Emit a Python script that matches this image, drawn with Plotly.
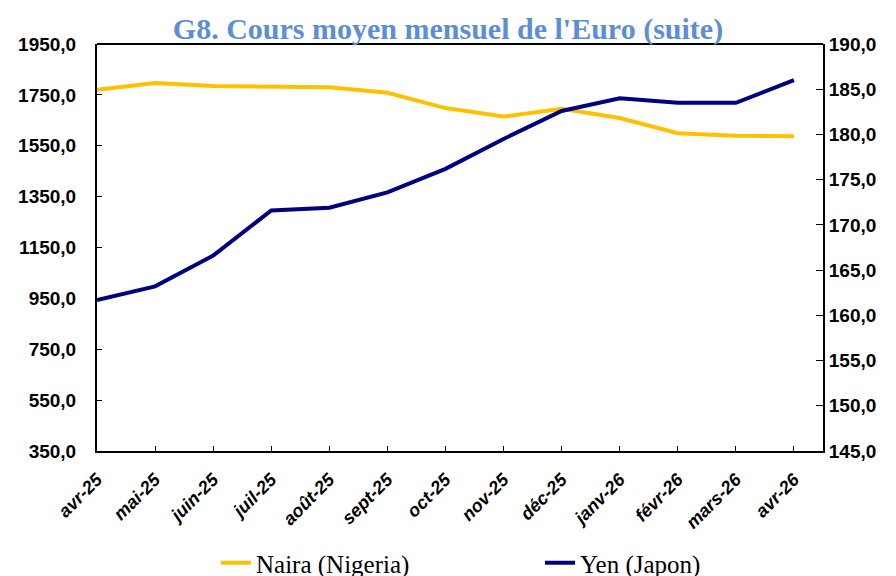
import plotly.graph_objects as go

months = ["avr-25", "mai-25", "juin-25", "juil-25", "août-25", "sept-25", "oct-25",
          "nov-25", "déc-25", "janv-26", "févr-26", "mars-26", "avr-26"]
naira = [1770, 1797, 1785, 1783, 1780, 1758, 1698, 1665, 1695, 1659, 1599, 1589, 1587]
yen = [161.7, 163.2, 166.6, 171.6, 171.9, 173.6, 176.2, 179.5, 182.6, 184.0, 183.5, 183.5, 186.0]

tick_font = dict(family="Liberation Sans, Arial", size=19, color="black", weight="bold")
serif = "Liberation Serif, Times New Roman, serif"

L, R, T, B = 97, 73, 44, 125

fig = go.Figure()
fig.add_trace(go.Scatter(x=months, y=naira, name="Naira (Nigeria)", mode="lines",
                         line=dict(color="#FFC000", width=4), xaxis="x", yaxis="y"))
fig.add_trace(go.Scatter(x=months, y=yen, name="Yen (Japon)", mode="lines",
                         line=dict(color="#000080", width=4), xaxis="x2", yaxis="y2"))

fig.update_layout(
    width=896, height=576,
    margin=dict(l=L, r=R, t=T, b=B),
    paper_bgcolor="white", plot_bgcolor="white",
    separators=", ",
    font=dict(family=serif, color="black"),
    title=dict(text="G8. Cours moyen mensuel de l'Euro (suite)", x=0.5, xanchor="center",
               y=1 - 28/576, yanchor="middle",
               font=dict(family=serif, size=30, color="#5B8ED6", weight="bold")),
    xaxis=dict(type="category", range=[0, 12.5], showline=True, linecolor="black", linewidth=2,
               ticks="outside", ticklen=9, tickcolor="rgba(0,0,0,0)", tickangle=-45,
               tickfont=dict(family="Liberation Sans, Arial", size=18, color="black",
                             weight="bold", style="italic"),
               automargin=False, showgrid=False, zeroline=False),
    xaxis2=dict(type="category", matches="x", overlaying="x", side="bottom",
                showline=False, ticks="inside", ticklen=5, tickcolor="black", tickwidth=1,
                showticklabels=False, automargin=False, showgrid=False, zeroline=False),
    yaxis=dict(range=[350, 1950], dtick=200, tick0=350, tickformat=".1f", showline=True,
               linecolor="black", linewidth=2, ticks="outside", ticklen=15,
               tickcolor="rgba(0,0,0,0)",
               minor=dict(ticks="inside", dtick=200, tick0=350, ticklen=5, tickcolor="black",
                          tickwidth=1, showgrid=False),
               tickfont=tick_font, showgrid=False, zeroline=False, automargin=False),
    yaxis2=dict(range=[145, 190], dtick=5, tick0=145, tickformat=".1f", overlaying="y",
                anchor="x", side="right", showline=True, linecolor="black", linewidth=2,
                ticks="inside", ticklen=7, tickcolor="black", tickwidth=1, tickfont=tick_font,
                showgrid=False, zeroline=False, automargin=False),
    showlegend=True,
    legend=dict(orientation="h", xref="container", yref="container",
                x=216 / 896, xanchor="left", y=1 - 563 / 576, yanchor="middle",
                font=dict(family=serif, size=25, color="black"),
                entrywidth=279, entrywidthmode="pixels", bgcolor="rgba(0,0,0,0)"),
)

fig.add_shape(type="line", xref="paper", yref="paper", x0=0, x1=1, y0=1, y1=1,
              line=dict(color="black", width=2))

fig.write_html("out.html", config={"displayModeBar": False},
               post_script="document.body.style.margin='0';")
